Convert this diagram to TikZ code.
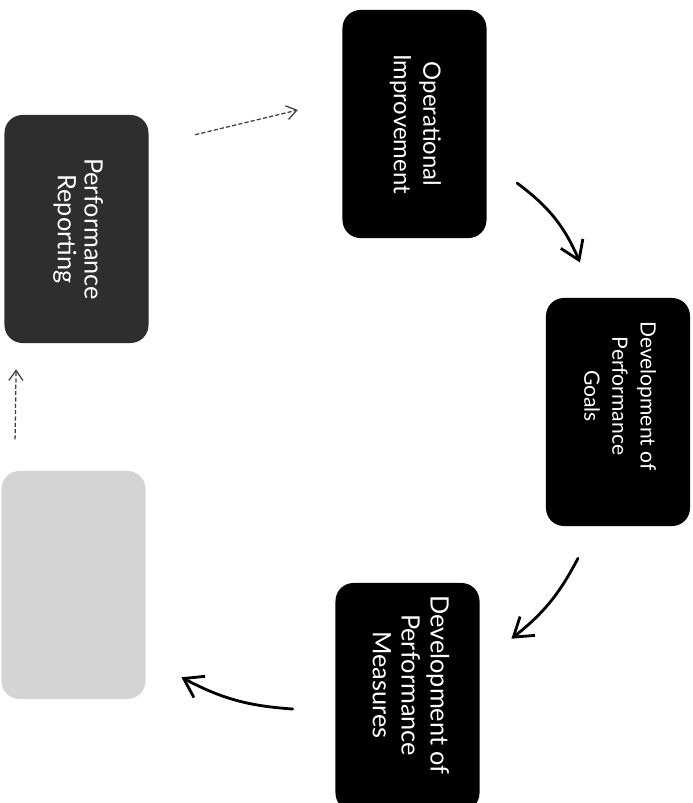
\documentclass[tikz,border=0pt]{standalone}
\usepackage{fontspec}
\setmainfont{Lato}
\usetikzlibrary{arrows.meta}

\tikzstyle{stage}=[shape=rectangle,
                   rounded corners=0.45cm,
                   fill=black,
                   text=white,
                   minimum width=3.6cm,
                   minimum height=5.7cm,
                   inner sep=0pt]
\tikzstyle{faded}=[stage,
                   fill=black!17]
\tikzstyle{flow}=[-{Straight Barb[length=4.5mm,width=6mm]},
                  line width=2pt,
                  line cap=round]
\tikzstyle{dashflow}=[-{Straight Barb[length=2.5mm,width=3.5mm]},
                      line width=0.9pt,
                      dash pattern=on 3pt off 1.5pt,
                      black!75]

\newcommand{\sidetext}[2][0pt]{\rotatebox{-90}{\begin{tabular}{@{}c@{}}#2\end{tabular}\hspace{#1}}}

\begin{document}
\begin{tikzpicture}[x=0.025cm, y=-0.025cm]
\useasboundingbox (0,0) rectangle (692,803);

% stages of the cycle
\node[stage, fill=black!82, font=\fontsize{18}{19}\selectfont] (rep) at (76.5, 229) {\sidetext{Performance\\Reporting}};
\node[stage, font=\fontsize{17}{21}\selectfont] (op) at (414.5, 124) {\sidetext{Operational\\Improvement}};
\node[stage, font=\fontsize{15}{20}\selectfont] (goals) at (618, 412) {\sidetext[0.8cm]{Development of\\Performance\\Goals}};
\node[stage, font=\fontsize{18}{20.5}\selectfont] (meas) at (407.5, 697) {\sidetext[0.6cm]{Development of\\Performance\\Measures}};
\node[faded] (blank) at (73.5, 585) {};

% arrows
\path[flow] ([xshift=0.76cm,yshift=-1.48cm]op.east) edge[bend left=15] ([xshift=-0.95cm,yshift=0.88cm]goals.north)
            ([xshift=-1cm,yshift=-0.8cm]goals.south) edge[bend left=12] ([xshift=0.79cm,yshift=-1.4cm]meas.north east)
            ([xshift=-1.06cm,yshift=-0.3cm]meas.west) edge[bend left=12] ([xshift=0.89cm,yshift=0.55cm]blank.south east);

\path[dashflow] ([xshift=1.16cm,yshift=-0.5cm]rep.north east) edge ([xshift=-1.11cm,yshift=0.35cm]op.west)
                ([xshift=-1.46cm,yshift=0.78cm]blank.north) edge ([xshift=-1.51cm,yshift=-0.65cm]rep.south);
\end{tikzpicture}
\end{document}
